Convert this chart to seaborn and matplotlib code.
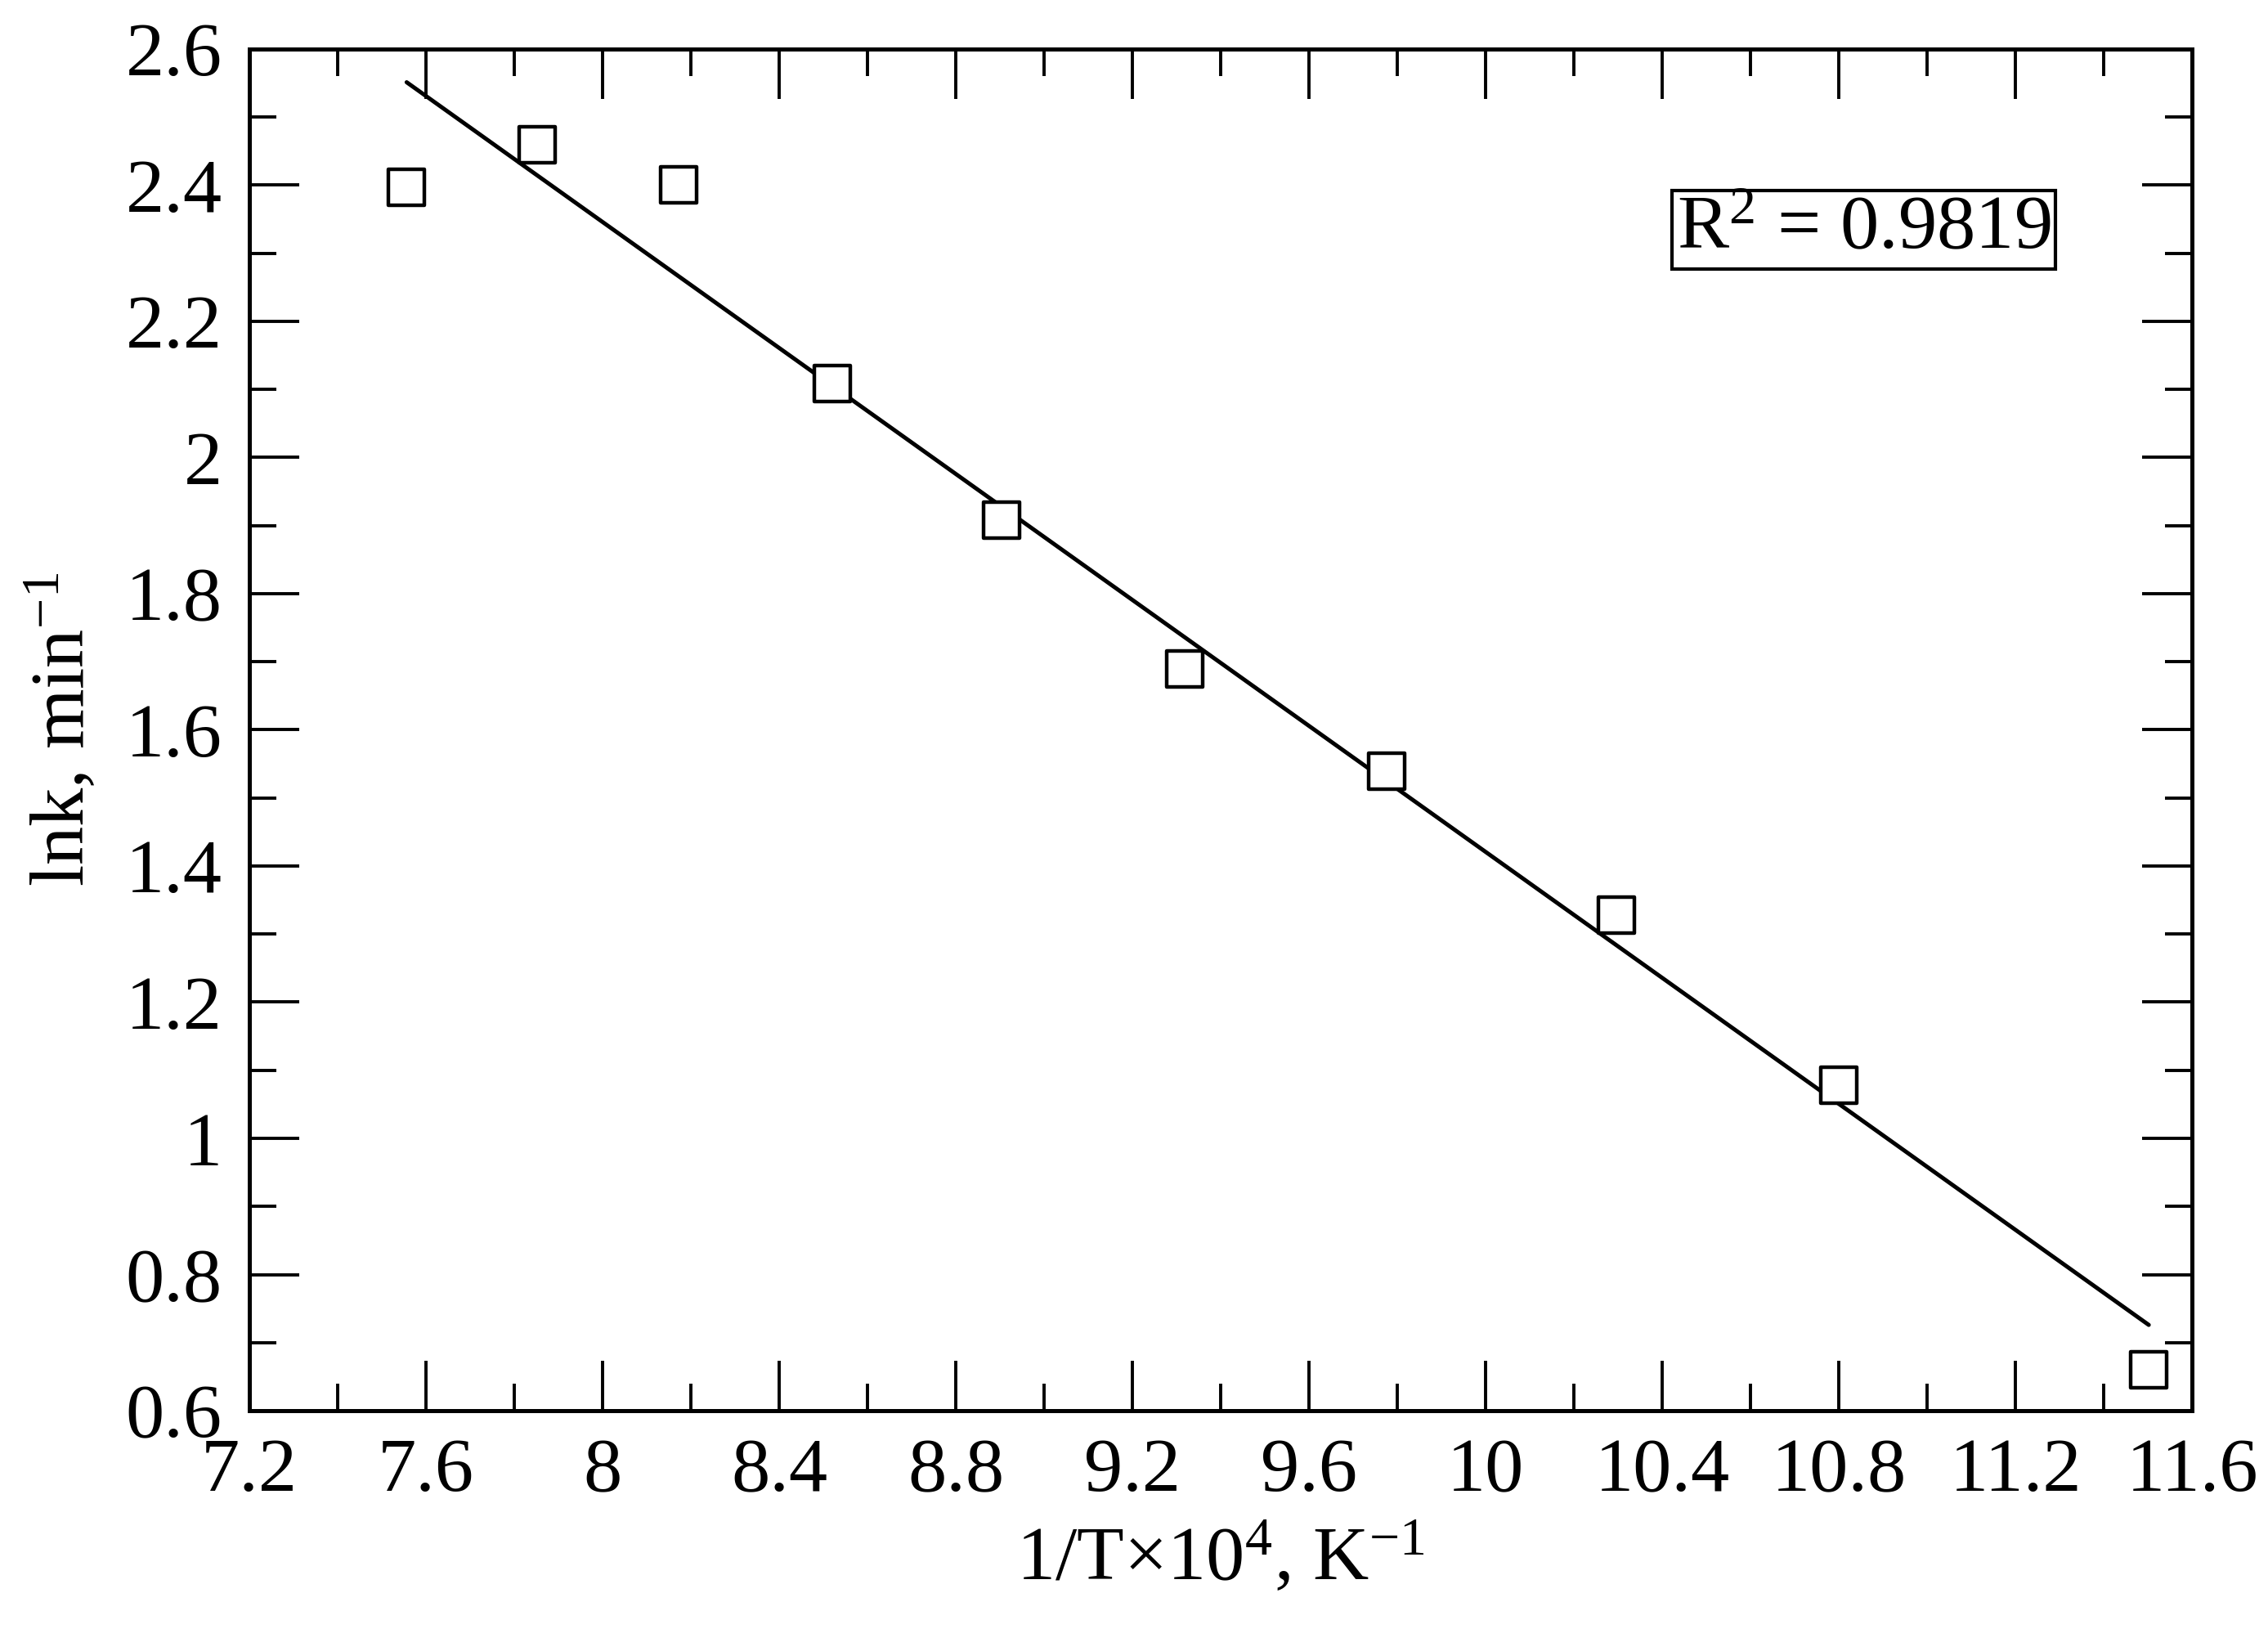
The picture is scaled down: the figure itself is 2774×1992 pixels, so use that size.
import numpy as np
import pandas as pd
import matplotlib
matplotlib.use('Agg')
import matplotlib.pyplot as plt
from matplotlib.ticker import MultipleLocator
import seaborn as sns

# du lieu doc tu hinh
inv_T = [7.556, 7.852, 8.172, 8.521, 8.903, 9.318, 9.776, 10.296, 10.800, 11.502]
ln_k = [2.397, 2.459, 2.400, 2.109, 1.908, 1.689, 1.539, 1.328, 1.078, 0.660]

# duong hoi quy (hai diem dau/cuoi)
fit_x = [7.556, 11.502]
fit_y = [2.551, 0.726]

r2_text = r'R$^2$ = 0.9819'

df = pd.DataFrame({'x': inv_T, 'y': ln_k})
df_fit = pd.DataFrame({'x': fit_x, 'y': fit_y})

sns.set_theme(style='ticks')
plt.rcParams['font.family'] = ['Liberation Serif', 'DejaVu Serif']
plt.rcParams['mathtext.fontset'] = 'custom'
plt.rcParams['mathtext.rm'] = 'Liberation Serif'
plt.rcParams['mathtext.it'] = 'Liberation Serif:italic'
for k in ['text.color', 'axes.labelcolor', 'xtick.color', 'ytick.color', 'axes.edgecolor']:
    plt.rcParams[k] = 'black'

fig = plt.figure(figsize=(27.74, 19.92), dpi=100)
ax = fig.add_axes([0.110, 0.134, 0.8565, 0.836])

sns.lineplot(data=df_fit, x='x', y='y', color='black', linewidth=3.6, ax=ax)
sns.scatterplot(data=df, x='x', y='y', marker='s', s=1000, facecolor='white',
                edgecolor='black', linewidth=3.2, ax=ax, zorder=3)

ax.set_xlim(7.2, 11.6)
ax.set_ylim(0.6, 2.6)
ax.xaxis.set_major_locator(MultipleLocator(0.4))
ax.xaxis.set_minor_locator(MultipleLocator(0.2))
ax.yaxis.set_major_locator(MultipleLocator(0.2))
ax.yaxis.set_minor_locator(MultipleLocator(0.1))
fmt = plt.FuncFormatter(lambda v, p: f'{v:.1f}'.rstrip('0').rstrip('.'))
ax.xaxis.set_major_formatter(fmt)
ax.yaxis.set_major_formatter(fmt)

ax.tick_params(which='both', direction='in', top=True, right=True, width=2.8, labelsize=68, pad=24)
ax.tick_params(which='major', length=44)
ax.tick_params(which='minor', length=24)
for sp in ax.spines.values():
    sp.set_linewidth(3.6)

ax.set_xlabel('1/T×10$^4$, K$^{-1}$', fontsize=68, labelpad=12)
ax.set_ylabel('lnk, min$^{-1}$', fontsize=68, labelpad=22)

ax.text(0.831, 0.867, r2_text, transform=ax.transAxes, fontsize=68, ha='center', va='center',
        bbox=dict(boxstyle='square,pad=0.06', facecolor='white', edgecolor='black', linewidth=3))

plt.savefig('out.png', dpi=100)
